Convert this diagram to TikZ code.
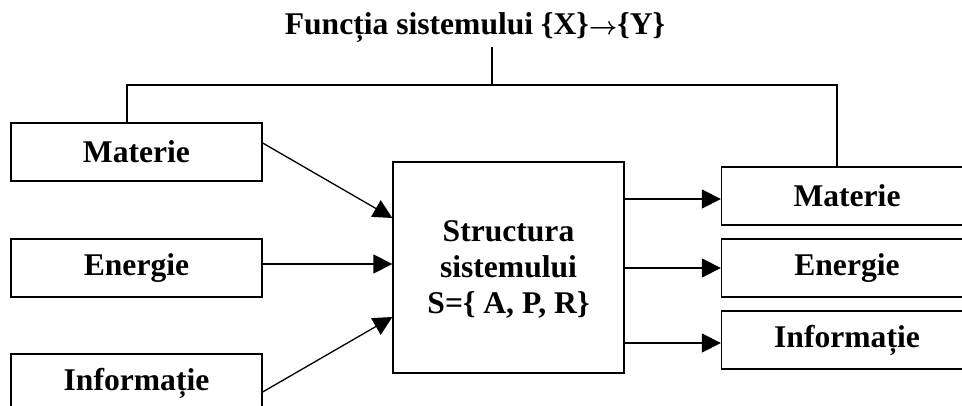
\documentclass[tikz,border=0pt]{standalone}
\usepackage{fontspec}
\setmainfont{Liberation Serif}
\usetikzlibrary{arrows.meta}
\begin{document}
\begin{tikzpicture}[x=1pt,y=-1pt,
  line width=1.3pt,
  >={Triangle[length=19pt,width=19pt]},
  box/.style={draw,rectangle,minimum width=251pt,minimum height=58pt,inner sep=0pt,
    font=\fontsize{31.6}{36}\selectfont\bfseries},
  txt/.style={font=\fontsize{31.6}{36}\selectfont\bfseries,align=center,inner sep=0pt}]
\clip (0,0) rectangle (962,406);
\useasboundingbox (0,0) rectangle (962,406);
\node[txt,anchor=base] (title) at (475,35) {Funcția sistemului \{X\}{\boldmath$\rightarrow$}\{Y\}};
\node[box] (lm) at (136.5,152) {Materie};
\node[box] (le) at (136.5,268) {Energie};
\node[box] (li) at (136.5,383) {Informație};
\node[box,minimum width=231pt,minimum height=211pt] (c) at (508.5,267.5) {};
\node[txt] (ct) at (508.5,269) {Structura\\sistemului\\S=\{ A, P, R\}};
\node[box] (rm) at (847,196) {Materie};
\node[box] (re) at (847,268) {Energie};
\node[box] (ri) at (847,340) {Informație};
\coordinate (j) at (492,85);
\coordinate (hl) at (127,85);
\coordinate (hr) at (837,85);
\draw ([yshift=-12pt]title.base -| j) -- (j);
\draw (lm.north -| hl) -- (hl) -- (hr) -- (rm.north -| hr);
\draw[->] ([yshift=9pt]lm.east) -- ([yshift=49.5pt]c.west);
\draw[->] ([yshift=4pt]le.east) -- ([yshift=4pt]le.east -| c.west);
\draw[->] ([yshift=-9pt]li.east) -- ([yshift=-49.5pt]c.west);
\draw[->] ([yshift=-3pt]rm.west -| c.east) -- ([yshift=-3pt]rm.west);
\draw[->] (re.west -| c.east) -- (re.west);
\draw[->] ([yshift=-3pt]ri.west -| c.east) -- ([yshift=-3pt]ri.west);
\end{tikzpicture}
\end{document}
